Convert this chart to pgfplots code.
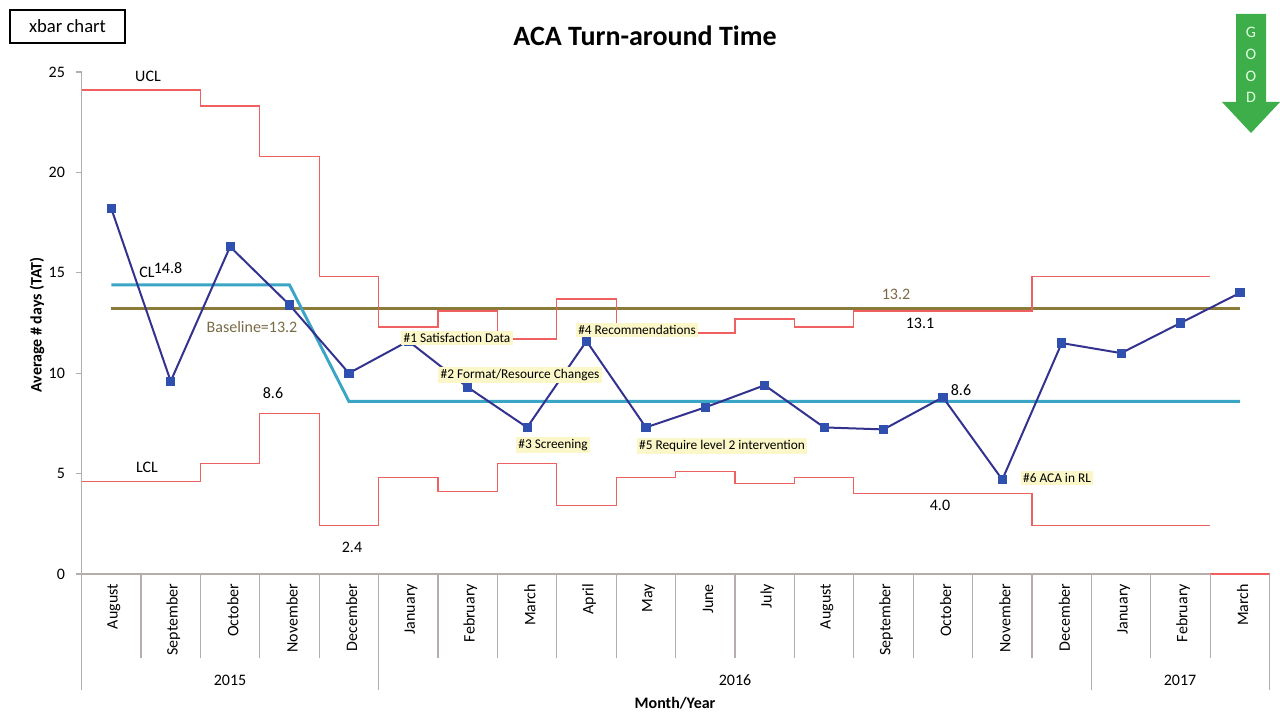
\documentclass[border=0pt]{standalone}
\usepackage{fontspec}
\setmainfont{Carlito}
\usepackage{pgfplots}
\pgfplotsset{compat=1.18}
\definecolor{dataline}{HTML}{33338F}
\definecolor{datamark}{HTML}{3050B0}
\definecolor{clcol}{HTML}{3BA5C6}
\definecolor{basecol}{HTML}{8A7C38}
\definecolor{limcol}{HTML}{F06060}
\definecolor{axcol}{HTML}{B5ACAC}
\definecolor{notebg}{HTML}{FCF7C8}
\definecolor{goodgreen}{HTML}{3DAE49}
\definecolor{basetext}{HTML}{7A6A45}
\begin{document}
\begin{tikzpicture}
\path[use as bounding box] (0,0) rectangle (960pt,533.25pt);
\begin{axis}[
  at={(61.2pt,102.75pt)}, anchor=south west,
  scale only axis, width=891pt, height=376.5pt,
  xmin=-0.5, xmax=19.5, ymin=0, ymax=25,
  axis lines=left, axis line style={draw=axcol, line width=1.1pt, -},
  ytick={0,5,...,25}, xtick={0,...,19},
  xticklabels={August,September,October,November,December,January,February,March,April,May,June,July,August,September,October,November,December,January,February,March},
  x tick label style={rotate=90, anchor=east, font=\fontsize{12}{14}\selectfont, yshift=-2pt},
  major x tick style={draw=none},
  y tick label style={font=\fontsize{12}{14}\selectfont, xshift=-5pt},
  tick align=outside, major tick length=4pt,
  y tick style={draw=axcol, line width=1pt},
  /pgf/number format/assume math mode=true,
  clip=false,
]
\addplot[basecol, line width=2.2pt] coordinates {(0,13.2)(19,13.2)};
\addplot[clcol, line width=2.2pt] coordinates {(0,14.4)(3,14.4)(4,8.6)(19,8.6)};
\addplot[const plot, limcol, line width=1pt] coordinates {(-0.5,24.1)(0.5,24.1)(1.5,23.3)(2.5,20.8)(3.5,14.8)(4.5,12.3)(5.5,13.1)(6.5,11.7)(7.5,13.7)(8.5,12.0)(9.5,12.0)(10.5,12.7)(11.5,12.3)(12.5,13.1)(13.5,13.1)(14.5,13.1)(15.5,14.8)(16.5,14.8)(17.5,14.8)(18.5,14.8)};
\addplot[const plot, limcol, line width=1pt] coordinates {(-0.5,4.6)(0.5,4.6)(1.5,5.5)(2.5,8.0)(3.5,2.4)(4.5,4.8)(5.5,4.1)(6.5,5.5)(7.5,3.4)(8.5,4.8)(9.5,5.1)(10.5,4.5)(11.5,4.8)(12.5,4.0)(13.5,4.0)(14.5,4.0)(15.5,2.4)(16.5,2.4)(17.5,2.4)(18.5,2.4)};
\addplot[limcol, line width=1pt] coordinates {(18.5,0)(19.5,0)};
\addplot[dataline, line width=1.5pt, mark=square*, mark size=2.7pt, mark options={fill=datamark, draw=datamark, solid}] coordinates {(0,18.2)(1,9.6)(2,16.3)(3,13.4)(4,10.0)(5,11.6)(6,9.3)(7,7.3)(8,11.6)(9,7.3)(10,8.3)(11,9.4)(12,7.3)(13,7.2)(14,8.8)(15,4.7)(16,11.5)(17,11.0)(18,12.5)(19,14.0)};
\pgfplotsinvokeforeach{0.5,1.5,...,18.5}{\draw[axcol, line width=0.8pt] (axis cs:#1,0) -- ([yshift=-63pt]axis cs:#1,0);}
\pgfplotsinvokeforeach{-0.5,4.5,16.5,19.5}{\draw[axcol, line width=0.8pt] (axis cs:#1,0) -- ([yshift=-87pt]axis cs:#1,0);}
\end{axis}
\begin{scope}[x=0.75pt, y=-0.75pt, shift={(0pt,533.25pt)}, every node/.style={font=\fontsize{12}{14}\selectfont}]
\node[font=\fontsize{21}{24}\selectfont\bfseries] at (645,36) {ACA Turn-around Time};
\node[draw=black, line width=1.4pt, minimum width=86pt, minimum height=24.5pt, inner sep=0pt, font=\fontsize{14}{16}\selectfont] at (67.5,26.5) {xbar chart};
\node[rotate=90, font=\fontsize{12}{14}\selectfont\bfseries] at (37,325) {Average \# days (TAT)};
\node[font=\fontsize{12}{14}\selectfont\bfseries] at (675,703) {Month/Year};
\node at (230,680) {2015};
\node at (735,680) {2016};
\node at (1180,680) {2017};
\node at (148,76) {UCL};
\node at (147,467) {LCL};
\node at (147,272) {CL};
\node at (168,268) {14.8};
\node[text=basetext] at (252,327) {Baseline=13.2};
\node at (273,393) {8.6};
\node at (352,547) {2.4};
\node[text=basetext] at (896,294) {13.2};
\node at (920,323) {13.1};
\node at (961,390) {8.6};
\node at (940,505) {4.0};
\begin{scope}[every node/.style={fill=notebg, inner sep=1.8pt, font=\fontsize{10}{12}\selectfont}]
\node at (457,338) {\#1 Satisfaction Data};
\node at (520,375) {\#2 Format/Resource Changes};
\node at (553,445) {\#3 Screening};
\node at (637,330) {\#4 Recommendations};
\node at (722,446) {\#5 Require level 2 intervention};
\node at (1057,478) {\#6 ACA in RL};
\end{scope}
\fill[goodgreen] (1236,14) -- (1266,14) -- (1266,102) -- (1280,102) -- (1251,133) -- (1222,102) -- (1236,102) -- cycle;
\begin{scope}[every node/.style={text=white!88!green, font=\fontsize{12}{13}\selectfont}]
\node at (1251,32) {G};
\node at (1251,54) {O};
\node at (1251,76) {O};
\node at (1251,97) {D};
\end{scope}
\end{scope}
\end{tikzpicture}
\end{document}
